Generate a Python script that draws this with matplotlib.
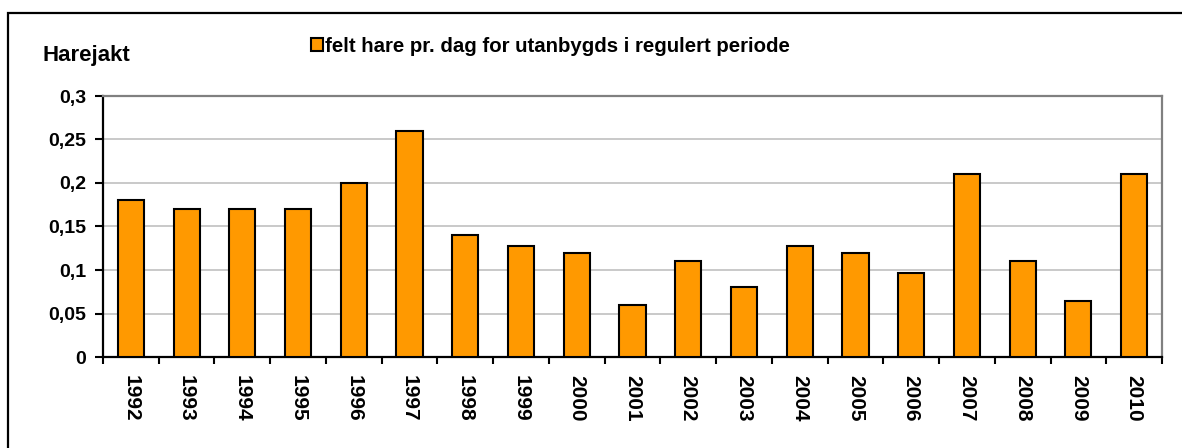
import matplotlib.pyplot as plt
from matplotlib.patches import Rectangle
import numpy as np

years = ['1992', '1993', '1994', '1995', '1996', '1997', '1998', '1999', '2000', '2001',
         '2002', '2003', '2004', '2005', '2006', '2007', '2008', '2009', '2010']
hare_per_day = [0.18, 0.17, 0.17, 0.17, 0.20, 0.26, 0.14, 0.128, 0.12, 0.06,
                0.11, 0.08, 0.128, 0.12, 0.097, 0.21, 0.11, 0.064, 0.21]
y_ticks = [0, 0.05, 0.1, 0.15, 0.2, 0.25, 0.3]
y_labels = ['0', '0,05', '0,1', '0,15', '0,2', '0,25', '0,3']
legend_label = 'felt hare pr. dag for utanbygds i regulert periode'

plt.rcParams['font.family'] = ['Liberation Sans', 'DejaVu Sans']
plt.rcParams['font.weight'] = 'bold'

W, H = 1182, 448
fig = plt.figure(figsize=(W / 100, H / 100), dpi=100)

# outer chart frame (cut off on right/bottom like the reference)
fig.patches.append(Rectangle((8 / W, -0.1), 1.2, 1 - 13 / H + 0.1, transform=fig.transFigure,
                             fill=False, edgecolor='black', lw=1.6))

ax = fig.add_axes([103 / W, 1 - 357 / H, (1162 - 103) / W, (357 - 96) / H])
x = np.arange(len(years))
ax.bar(x, hare_per_day, width=0.47, color='#FF9900', edgecolor='black', lw=1.5,
       zorder=3, label=legend_label)

ax.set_xlim(-0.5, len(years) - 0.5)
ax.set_ylim(0, 0.3)
ax.set_yticks(y_ticks)
ax.set_yticklabels(y_labels, fontsize=14, fontweight='bold')
ax.set_xticks(x)
ax.set_xticklabels(years, rotation=270, fontsize=15, fontweight='bold', va='top', ha='center')
ax.set_xticks(np.arange(len(years) + 1) - 0.5, minor=True)
ax.tick_params(axis='x', which='major', length=0, pad=13)
ax.tick_params(axis='x', which='minor', length=5, width=1.5, direction='out')
ax.tick_params(axis='y', length=6, width=1.5, pad=6)

ax.grid(axis='y', color='#c0c0c0', lw=1.2, zorder=0)
for side in ['left', 'bottom']:
    ax.spines[side].set_color('black')
    ax.spines[side].set_linewidth(1.6)
for side in ['top', 'right']:
    ax.spines[side].set_color('#808080')
    ax.spines[side].set_linewidth(1.6)

fig.text(42 / W, 1 - 55 / H, 'Harejakt', fontsize=16, fontweight='bold', va='center', ha='left')
fig.legend(loc='center left', bbox_to_anchor=(311 / W, 1 - 46 / H), frameon=False,
           handlelength=0.6, handleheight=0.6, handletextpad=0.1,
           borderpad=0, borderaxespad=0, prop={'weight': 'bold', 'size': 14.7})

fig.savefig('out.png', dpi=100)
